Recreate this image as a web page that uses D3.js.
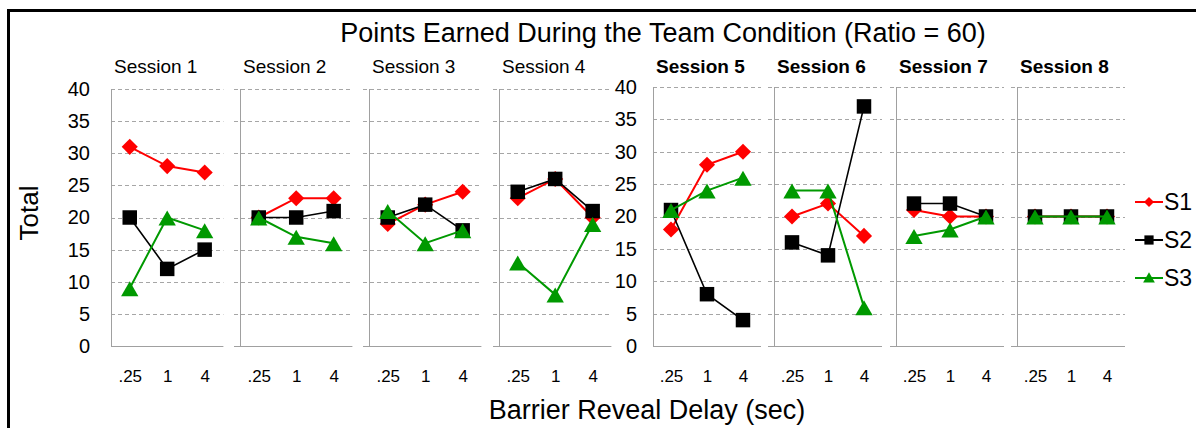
<!DOCTYPE html>
<html>
<head>
<meta charset="utf-8">
<script src="https://cdn.jsdelivr.net/npm/d3@7"></script>
<style>
  body { margin: 0; background: #fff; }
  svg { display: block; font-family: "Liberation Sans", Arial, sans-serif; }
</style>
</head>
<body>
<div id="chart"></div>
<script>
'use strict'

var sessions = ['Session 1', 'Session 2', 'Session 3', 'Session 4',
                'Session 5', 'Session 6', 'Session 7', 'Session 8'];
var delays = ['.25', '1', '4'];
var yTicks = [0, 5, 10, 15, 20, 25, 30, 35, 40];
var seriesNames = ['S1', 'S2', 'S3'];

// one row per session, values for .25 / 1 / 4 sec
var s1Values = [[31, 28, 27], [20, 23, 23], [19, 22, 24], [23, 26, 20],
                [18, 28, 30], [20, 22, 17], [21, 20, 20], [20, 20, 20]];
var s2Values = [[20, 12, 15], [20, 20, 21], [20, 22, 18], [24, 26, 21],
                [21, 8, 4], [16, 14, 37], [22, 22, 20], [20, 20, 20]];
var s3Values = [[9, 20, 18], [20, 17, 16], [21, 16, 18], [13, 8, 19],
                [21, 24, 26], [24, 24, 6], [17, 18, 20], [20, 20, 20]];

(function() {
  var width = 1196, height = 428;
  var colors = ['#ff0000', '#000000', '#009900'];
  var lineWidths = [2, 1.6, 2];
  var allValues = [s1Values, s2Values, s3Values];

  var svg = d3.select('#chart').append('svg')
    .attr('width', width)
    .attr('height', height);

  // outer frame (only top and left edges are inside the picture)
  svg.append('rect')
    .attr('x', 8.5).attr('y', 10.5)
    .attr('width', 1300).attr('height', 600)
    .attr('fill', 'none')
    .attr('stroke', '#000')
    .attr('stroke-width', 3);

  svg.append('text')
    .attr('x', 663).attr('y', 42)
    .attr('text-anchor', 'middle')
    .attr('font-size', 27)
    .text('Points Earned During the Team Condition (Ratio = 60)');

  svg.append('text')
    .attr('x', 647).attr('y', 419)
    .attr('text-anchor', 'middle')
    .attr('font-size', 27)
    .text('Barrier Reveal Delay (sec)');

  svg.append('text')
    .attr('text-anchor', 'middle')
    .attr('transform', 'translate(38, 213) rotate(-90)')
    .attr('font-size', 26)
    .text('Total');

  var markerFor = function(i, big) {
    if (i === 0) return d3.symbol().type(d3.symbolSquare).size(big ? 130 : 50)();
    if (i === 1) return d3.symbol().type(d3.symbolSquare).size(big ? 210 : 85)();
    return d3.symbol().type(d3.symbolTriangle).size(big ? 130 : 60)();
  };
  var markerTransform = function(i, x, y) {
    if (i === 0) return 'translate(' + x + ',' + y + ') rotate(45)';
    if (i === 2) return 'translate(' + x + ',' + (y + 3) + ')';
    return 'translate(' + x + ',' + y + ')';
  };

  function drawChart(first, xRange, yRange, bold, labelPad) {
    var idx = d3.range(first, first + 4);
    var panelScale = d3.scaleBand()
      .domain(idx)
      .range(xRange)
      .paddingInner(first === 0 ? 0.13 : 0.11);
    var y = d3.scaleLinear().domain([0, 40]).range(yRange);
    var bw = panelScale.bandwidth();

    svg.append('g')
      .attr('transform', 'translate(' + xRange[0] + ',0)')
      .call(d3.axisLeft(y).tickValues(yTicks).tickSize(0).tickPadding(labelPad))
      .call(function(g) { g.select('.domain').remove(); })
      .selectAll('text')
      .attr('font-family', 'Liberation Sans, Arial, sans-serif')
      .attr('font-size', 20)
      .attr('fill', '#000');

    idx.forEach(function(s, k) {
      var x0 = Math.round(panelScale(s));
      var tick = k === 0 ? 0 : 6;
      var x = d3.scalePoint().domain(delays).range([x0, x0 + bw]).padding(0.5);
      var g = svg.append('g');

      g.selectAll('line.grid')
        .data(yTicks.filter(function(t) { return t > 0; }))
        .enter().append('line')
        .attr('class', 'grid')
        .attr('x1', x0 - tick).attr('x2', x0 + bw)
        .attr('y1', function(d) { return Math.round(y(d)) + 0.5; })
        .attr('y2', function(d) { return Math.round(y(d)) + 0.5; })
        .attr('stroke', '#a6a6a6')
        .attr('stroke-dasharray', '4,3');

      g.append('line')
        .attr('x1', x0 - tick).attr('x2', x0 + bw)
        .attr('y1', Math.round(y(0)) + 0.5).attr('y2', Math.round(y(0)) + 0.5)
        .attr('stroke', '#a0a0a0');
      g.append('line')
        .attr('x1', x0 + 0.5).attr('x2', x0 + 0.5)
        .attr('y1', y(40)).attr('y2', y(0))
        .attr('stroke', '#a0a0a0');

      g.append('g')
        .attr('transform', 'translate(0,' + y(0) + ')')
        .call(d3.axisBottom(x).tickSize(0).tickPadding(24))
        .call(function(a) { a.select('.domain').remove(); })
        .selectAll('text')
        .attr('font-family', 'Liberation Sans, Arial, sans-serif')
        .attr('font-size', 17)
        .attr('fill', '#000');

      g.append('text')
        .attr('x', x0 + 3).attr('y', 73)
        .attr('font-size', 19)
        .attr('font-weight', bold ? 'bold' : 'normal')
        .text(sessions[s]);

      allValues.forEach(function(vals, i) {
        var pts = vals[s];
        var line = d3.line()
          .x(function(d, j) { return x(delays[j]); })
          .y(function(d) { return y(d); });
        g.append('path')
          .datum(pts)
          .attr('d', line)
          .attr('fill', 'none')
          .attr('stroke', colors[i])
          .attr('stroke-width', lineWidths[i]);
        g.selectAll('path.m' + i)
          .data(pts)
          .enter().append('path')
          .attr('class', 'm' + i)
          .attr('d', markerFor(i, true))
          .attr('transform', function(d, j) { return markerTransform(i, x(delays[j]), y(d)); })
          .attr('fill', colors[i]);
      });
    });
  }

  drawChart(0, [111, 611], [346, 89], false, 21);
  drawChart(4, [653, 1125], [346, 87], true, 16);

  // legend
  var legend = svg.append('g');
  seriesNames.forEach(function(name, i) {
    var ly = 202 + i * 38;
    legend.append('line')
      .attr('x1', 1135).attr('x2', 1163)
      .attr('y1', ly).attr('y2', ly)
      .attr('stroke', colors[i])
      .attr('stroke-width', 2);
    legend.append('path')
      .attr('d', markerFor(i, false))
      .attr('transform', markerTransform(i, 1149, ly - (i === 2 ? 2 : 0)))
      .attr('fill', colors[i]);
    legend.append('text')
      .attr('x', 1164).attr('y', ly)
      .attr('dy', '0.35em')
      .attr('font-size', 23)
      .text(name);
  });
})();
</script>
</body>
</html>
